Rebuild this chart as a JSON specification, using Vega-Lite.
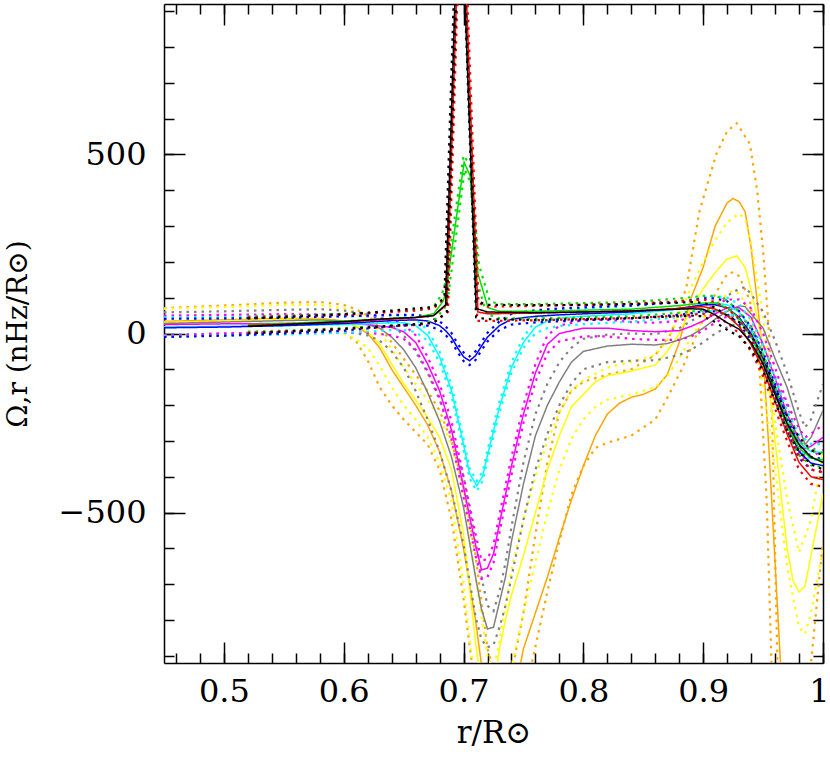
{
"$schema":"https://vega.github.io/schema/vega-lite/v6.json",
"width":659,"height":659,
"autosize":{"type":"none"},
"padding":{"left":164,"top":4,"right":7,"bottom":96},
"background":"white",
"config":{"view":{"stroke":null},"axis":{"grid":false,"domainColor":"black","domainWidth":1.5,"tickColor":"black","tickWidth":1.5,"labelFont":"DejaVu Serif","labelFontSize":32,"labelColor":"black","titleFont":"DejaVu Serif","titleFontSize":29,"titleFontWeight":"normal","titleColor":"black","labelOverlap":false,"labelFlush":false,"labelBound":false}},
"data":{"values":[
{"s":"o","d":"m","r":0.45,"v":34},{"s":"o","d":"m","r":0.5,"v":38},{"s":"o","d":"m","r":0.55,"v":42},{"s":"o","d":"m","r":0.58,"v":42},{"s":"o","d":"m","r":0.6,"v":35},{"s":"o","d":"m","r":0.61,"v":20},{"s":"o","d":"m","r":0.62,"v":0},{"s":"o","d":"m","r":0.63,"v":-40},{"s":"o","d":"m","r":0.64,"v":-100},{"s":"o","d":"m","r":0.65,"v":-150},{"s":"o","d":"m","r":0.66,"v":-200},{"s":"o","d":"m","r":0.67,"v":-255},{"s":"o","d":"m","r":0.68,"v":-330},{"s":"o","d":"m","r":0.69,"v":-440},{"s":"o","d":"m","r":0.7,"v":-600},{"s":"o","d":"m","r":0.71,"v":-800},{"s":"o","d":"m","r":0.72,"v":-1050},{"s":"o","d":"m","r":0.73,"v":-1150},{"s":"o","d":"m","r":0.74,"v":-1050},{"s":"o","d":"m","r":0.75,"v":-880},{"s":"o","d":"m","r":0.76,"v":-780},{"s":"o","d":"m","r":0.77,"v":-680},{"s":"o","d":"m","r":0.78,"v":-570},{"s":"o","d":"m","r":0.79,"v":-465},{"s":"o","d":"m","r":0.8,"v":-370},{"s":"o","d":"m","r":0.81,"v":-285},{"s":"o","d":"m","r":0.82,"v":-225},{"s":"o","d":"m","r":0.83,"v":-195},{"s":"o","d":"m","r":0.84,"v":-178},{"s":"o","d":"m","r":0.85,"v":-170},{"s":"o","d":"m","r":0.86,"v":-155},{"s":"o","d":"m","r":0.87,"v":-115},{"s":"o","d":"m","r":0.88,"v":-25},{"s":"o","d":"m","r":0.89,"v":100},{"s":"o","d":"m","r":0.9,"v":185},{"s":"o","d":"m","r":0.91,"v":300},{"s":"o","d":"m","r":0.92,"v":365},{"s":"o","d":"m","r":0.925,"v":377},{"s":"o","d":"m","r":0.93,"v":368},{"s":"o","d":"m","r":0.935,"v":340},{"s":"o","d":"m","r":0.94,"v":240},{"s":"o","d":"m","r":0.945,"v":92},{"s":"o","d":"m","r":0.95,"v":-60},{"s":"o","d":"m","r":0.955,"v":-330},{"s":"o","d":"m","r":0.96,"v":-640},{"s":"o","d":"m","r":0.965,"v":-950},{"s":"o","d":"m","r":0.97,"v":-1250},{"s":"o","d":"m","r":0.98,"v":-1600},{"s":"o","d":"m","r":1.0,"v":-1500},
{"s":"o","d":"u","r":0.45,"v":71},{"s":"o","d":"u","r":0.5,"v":78},{"s":"o","d":"u","r":0.55,"v":86},{"s":"o","d":"u","r":0.58,"v":88},{"s":"o","d":"u","r":0.6,"v":80},{"s":"o","d":"u","r":0.61,"v":68},{"s":"o","d":"u","r":0.62,"v":50},{"s":"o","d":"u","r":0.63,"v":20},{"s":"o","d":"u","r":0.64,"v":-25},{"s":"o","d":"u","r":0.65,"v":-70},{"s":"o","d":"u","r":0.66,"v":-115},{"s":"o","d":"u","r":0.67,"v":-160},{"s":"o","d":"u","r":0.68,"v":-215},{"s":"o","d":"u","r":0.69,"v":-300},{"s":"o","d":"u","r":0.7,"v":-430},{"s":"o","d":"u","r":0.71,"v":-620},{"s":"o","d":"u","r":0.72,"v":-880},{"s":"o","d":"u","r":0.73,"v":-1000},{"s":"o","d":"u","r":0.74,"v":-950},{"s":"o","d":"u","r":0.75,"v":-780},{"s":"o","d":"u","r":0.76,"v":-560},{"s":"o","d":"u","r":0.77,"v":-360},{"s":"o","d":"u","r":0.78,"v":-220},{"s":"o","d":"u","r":0.79,"v":-160},{"s":"o","d":"u","r":0.8,"v":-135},{"s":"o","d":"u","r":0.82,"v":-115},{"s":"o","d":"u","r":0.84,"v":-100},{"s":"o","d":"u","r":0.86,"v":-60},{"s":"o","d":"u","r":0.873,"v":-1},{"s":"o","d":"u","r":0.886,"v":129},{"s":"o","d":"u","r":0.897,"v":343},{"s":"o","d":"u","r":0.911,"v":501},{"s":"o","d":"u","r":0.92,"v":565},{"s":"o","d":"u","r":0.928,"v":587},{"s":"o","d":"u","r":0.939,"v":529},{"s":"o","d":"u","r":0.945,"v":400},{"s":"o","d":"u","r":0.95,"v":231},{"s":"o","d":"u","r":0.955,"v":-1},{"s":"o","d":"u","r":0.958,"v":-300},{"s":"o","d":"u","r":0.962,"v":-920},{"s":"o","d":"u","r":0.97,"v":-1300},{"s":"o","d":"u","r":0.98,"v":-1300},{"s":"o","d":"u","r":0.99,"v":-920},{"s":"o","d":"u","r":1.0,"v":-578},
{"s":"o","d":"l","r":0.45,"v":-8},{"s":"o","d":"l","r":0.5,"v":-5},{"s":"o","d":"l","r":0.55,"v":2},{"s":"o","d":"l","r":0.58,"v":5},{"s":"o","d":"l","r":0.6,"v":2},{"s":"o","d":"l","r":0.61,"v":-20},{"s":"o","d":"l","r":0.62,"v":-75},{"s":"o","d":"l","r":0.63,"v":-150},{"s":"o","d":"l","r":0.64,"v":-200},{"s":"o","d":"l","r":0.65,"v":-240},{"s":"o","d":"l","r":0.66,"v":-275},{"s":"o","d":"l","r":0.67,"v":-310},{"s":"o","d":"l","r":0.68,"v":-380},{"s":"o","d":"l","r":0.69,"v":-520},{"s":"o","d":"l","r":0.7,"v":-740},{"s":"o","d":"l","r":0.71,"v":-1000},{"s":"o","d":"l","r":0.72,"v":-1300},{"s":"o","d":"l","r":0.74,"v":-1400},{"s":"o","d":"l","r":0.75,"v":-1150},{"s":"o","d":"l","r":0.757,"v":-920},{"s":"o","d":"l","r":0.77,"v":-720},{"s":"o","d":"l","r":0.78,"v":-580},{"s":"o","d":"l","r":0.79,"v":-450},{"s":"o","d":"l","r":0.8,"v":-370},{"s":"o","d":"l","r":0.81,"v":-320},{"s":"o","d":"l","r":0.82,"v":-305},{"s":"o","d":"l","r":0.84,"v":-285},{"s":"o","d":"l","r":0.86,"v":-240},{"s":"o","d":"l","r":0.87,"v":-180},{"s":"o","d":"l","r":0.883,"v":-94},{"s":"o","d":"l","r":0.897,"v":17},{"s":"o","d":"l","r":0.91,"v":110},{"s":"o","d":"l","r":0.92,"v":166},{"s":"o","d":"l","r":0.925,"v":171},{"s":"o","d":"l","r":0.93,"v":160},{"s":"o","d":"l","r":0.939,"v":92},{"s":"o","d":"l","r":0.947,"v":-94},{"s":"o","d":"l","r":0.953,"v":-466},{"s":"o","d":"l","r":0.957,"v":-920},{"s":"o","d":"l","r":0.97,"v":-1500},{"s":"o","d":"l","r":1.0,"v":-1500},
{"s":"y","d":"m","r":0.45,"v":31},{"s":"y","d":"m","r":0.5,"v":35},{"s":"y","d":"m","r":0.55,"v":40},{"s":"y","d":"m","r":0.58,"v":40},{"s":"y","d":"m","r":0.6,"v":33},{"s":"y","d":"m","r":0.61,"v":22},{"s":"y","d":"m","r":0.62,"v":5},{"s":"y","d":"m","r":0.63,"v":-30},{"s":"y","d":"m","r":0.64,"v":-85},{"s":"y","d":"m","r":0.65,"v":-140},{"s":"y","d":"m","r":0.66,"v":-185},{"s":"y","d":"m","r":0.67,"v":-235},{"s":"y","d":"m","r":0.68,"v":-290},{"s":"y","d":"m","r":0.69,"v":-380},{"s":"y","d":"m","r":0.7,"v":-560},{"s":"y","d":"m","r":0.71,"v":-860},{"s":"y","d":"m","r":0.715,"v":-990},{"s":"y","d":"m","r":0.72,"v":-1080},{"s":"y","d":"m","r":0.725,"v":-1000},{"s":"y","d":"m","r":0.73,"v":-880},{"s":"y","d":"m","r":0.735,"v":-800},{"s":"y","d":"m","r":0.74,"v":-730},{"s":"y","d":"m","r":0.75,"v":-620},{"s":"y","d":"m","r":0.76,"v":-500},{"s":"y","d":"m","r":0.77,"v":-380},{"s":"y","d":"m","r":0.78,"v":-285},{"s":"y","d":"m","r":0.79,"v":-205},{"s":"y","d":"m","r":0.8,"v":-170},{"s":"y","d":"m","r":0.81,"v":-135},{"s":"y","d":"m","r":0.82,"v":-118},{"s":"y","d":"m","r":0.84,"v":-105},{"s":"y","d":"m","r":0.86,"v":-88},{"s":"y","d":"m","r":0.87,"v":-50},{"s":"y","d":"m","r":0.88,"v":0},{"s":"y","d":"m","r":0.89,"v":70},{"s":"y","d":"m","r":0.9,"v":125},{"s":"y","d":"m","r":0.91,"v":170},{"s":"y","d":"m","r":0.92,"v":208},{"s":"y","d":"m","r":0.928,"v":217},{"s":"y","d":"m","r":0.935,"v":185},{"s":"y","d":"m","r":0.94,"v":120},{"s":"y","d":"m","r":0.945,"v":45},{"s":"y","d":"m","r":0.95,"v":-40},{"s":"y","d":"m","r":0.955,"v":-150},{"s":"y","d":"m","r":0.96,"v":-300},{"s":"y","d":"m","r":0.965,"v":-450},{"s":"y","d":"m","r":0.97,"v":-600},{"s":"y","d":"m","r":0.975,"v":-690},{"s":"y","d":"m","r":0.98,"v":-722},{"s":"y","d":"m","r":0.985,"v":-705},{"s":"y","d":"m","r":0.99,"v":-620},{"s":"y","d":"m","r":1.0,"v":-448},
{"s":"y","d":"u","r":0.45,"v":69},{"s":"y","d":"u","r":0.5,"v":74},{"s":"y","d":"u","r":0.55,"v":80},{"s":"y","d":"u","r":0.58,"v":80},{"s":"y","d":"u","r":0.6,"v":70},{"s":"y","d":"u","r":0.61,"v":55},{"s":"y","d":"u","r":0.62,"v":35},{"s":"y","d":"u","r":0.63,"v":5},{"s":"y","d":"u","r":0.64,"v":-45},{"s":"y","d":"u","r":0.65,"v":-95},{"s":"y","d":"u","r":0.66,"v":-140},{"s":"y","d":"u","r":0.67,"v":-185},{"s":"y","d":"u","r":0.68,"v":-235},{"s":"y","d":"u","r":0.69,"v":-310},{"s":"y","d":"u","r":0.7,"v":-440},{"s":"y","d":"u","r":0.71,"v":-680},{"s":"y","d":"u","r":0.72,"v":-900},{"s":"y","d":"u","r":0.725,"v":-940},{"s":"y","d":"u","r":0.73,"v":-860},{"s":"y","d":"u","r":0.735,"v":-760},{"s":"y","d":"u","r":0.74,"v":-660},{"s":"y","d":"u","r":0.75,"v":-520},{"s":"y","d":"u","r":0.76,"v":-400},{"s":"y","d":"u","r":0.77,"v":-300},{"s":"y","d":"u","r":0.78,"v":-220},{"s":"y","d":"u","r":0.79,"v":-160},{"s":"y","d":"u","r":0.8,"v":-130},{"s":"y","d":"u","r":0.82,"v":-95},{"s":"y","d":"u","r":0.84,"v":-80},{"s":"y","d":"u","r":0.86,"v":-60},{"s":"y","d":"u","r":0.87,"v":-20},{"s":"y","d":"u","r":0.88,"v":50},{"s":"y","d":"u","r":0.89,"v":130},{"s":"y","d":"u","r":0.9,"v":200},{"s":"y","d":"u","r":0.91,"v":260},{"s":"y","d":"u","r":0.92,"v":310},{"s":"y","d":"u","r":0.93,"v":335},{"s":"y","d":"u","r":0.935,"v":320},{"s":"y","d":"u","r":0.94,"v":250},{"s":"y","d":"u","r":0.945,"v":150},{"s":"y","d":"u","r":0.95,"v":50},{"s":"y","d":"u","r":0.955,"v":-90},{"s":"y","d":"u","r":0.96,"v":-250},{"s":"y","d":"u","r":0.97,"v":-460},{"s":"y","d":"u","r":0.98,"v":-611},{"s":"y","d":"u","r":0.99,"v":-520},{"s":"y","d":"u","r":1.0,"v":-330},
{"s":"y","d":"l","r":0.45,"v":-5},{"s":"y","d":"l","r":0.5,"v":-2},{"s":"y","d":"l","r":0.55,"v":3},{"s":"y","d":"l","r":0.58,"v":5},{"s":"y","d":"l","r":0.6,"v":0},{"s":"y","d":"l","r":0.61,"v":-15},{"s":"y","d":"l","r":0.62,"v":-40},{"s":"y","d":"l","r":0.63,"v":-90},{"s":"y","d":"l","r":0.64,"v":-150},{"s":"y","d":"l","r":0.65,"v":-200},{"s":"y","d":"l","r":0.66,"v":-240},{"s":"y","d":"l","r":0.67,"v":-290},{"s":"y","d":"l","r":0.68,"v":-360},{"s":"y","d":"l","r":0.69,"v":-470},{"s":"y","d":"l","r":0.7,"v":-700},{"s":"y","d":"l","r":0.71,"v":-1000},{"s":"y","d":"l","r":0.72,"v":-1250},{"s":"y","d":"l","r":0.73,"v":-1100},{"s":"y","d":"l","r":0.74,"v":-930},{"s":"y","d":"l","r":0.75,"v":-780},{"s":"y","d":"l","r":0.76,"v":-640},{"s":"y","d":"l","r":0.77,"v":-500},{"s":"y","d":"l","r":0.78,"v":-380},{"s":"y","d":"l","r":0.79,"v":-295},{"s":"y","d":"l","r":0.8,"v":-240},{"s":"y","d":"l","r":0.81,"v":-205},{"s":"y","d":"l","r":0.82,"v":-185},{"s":"y","d":"l","r":0.84,"v":-170},{"s":"y","d":"l","r":0.86,"v":-150},{"s":"y","d":"l","r":0.87,"v":-120},{"s":"y","d":"l","r":0.88,"v":-70},{"s":"y","d":"l","r":0.89,"v":-10},{"s":"y","d":"l","r":0.9,"v":40},{"s":"y","d":"l","r":0.91,"v":80},{"s":"y","d":"l","r":0.92,"v":110},{"s":"y","d":"l","r":0.925,"v":120},{"s":"y","d":"l","r":0.93,"v":112},{"s":"y","d":"l","r":0.935,"v":85},{"s":"y","d":"l","r":0.94,"v":30},{"s":"y","d":"l","r":0.945,"v":-50},{"s":"y","d":"l","r":0.95,"v":-150},{"s":"y","d":"l","r":0.96,"v":-380},{"s":"y","d":"l","r":0.97,"v":-650},{"s":"y","d":"l","r":0.98,"v":-820},{"s":"y","d":"l","r":0.985,"v":-839},{"s":"y","d":"l","r":0.99,"v":-780},{"s":"y","d":"l","r":1.0,"v":-600},
{"s":"gy","d":"m","r":0.45,"v":28},{"s":"gy","d":"m","r":0.5,"v":32},{"s":"gy","d":"m","r":0.55,"v":36},{"s":"gy","d":"m","r":0.58,"v":38},{"s":"gy","d":"m","r":0.6,"v":35},{"s":"gy","d":"m","r":0.62,"v":25},{"s":"gy","d":"m","r":0.63,"v":15},{"s":"gy","d":"m","r":0.64,"v":-10},{"s":"gy","d":"m","r":0.65,"v":-45},{"s":"gy","d":"m","r":0.66,"v":-95},{"s":"gy","d":"m","r":0.67,"v":-165},{"s":"gy","d":"m","r":0.68,"v":-245},{"s":"gy","d":"m","r":0.69,"v":-345},{"s":"gy","d":"m","r":0.7,"v":-485},{"s":"gy","d":"m","r":0.71,"v":-680},{"s":"gy","d":"m","r":0.715,"v":-770},{"s":"gy","d":"m","r":0.72,"v":-825},{"s":"gy","d":"m","r":0.725,"v":-820},{"s":"gy","d":"m","r":0.73,"v":-750},{"s":"gy","d":"m","r":0.735,"v":-680},{"s":"gy","d":"m","r":0.74,"v":-580},{"s":"gy","d":"m","r":0.75,"v":-420},{"s":"gy","d":"m","r":0.76,"v":-285},{"s":"gy","d":"m","r":0.77,"v":-200},{"s":"gy","d":"m","r":0.78,"v":-135},{"s":"gy","d":"m","r":0.79,"v":-80},{"s":"gy","d":"m","r":0.8,"v":-50},{"s":"gy","d":"m","r":0.82,"v":-35},{"s":"gy","d":"m","r":0.84,"v":-30},{"s":"gy","d":"m","r":0.86,"v":-32},{"s":"gy","d":"m","r":0.87,"v":-28},{"s":"gy","d":"m","r":0.88,"v":-18},{"s":"gy","d":"m","r":0.89,"v":-5},{"s":"gy","d":"m","r":0.9,"v":15},{"s":"gy","d":"m","r":0.91,"v":40},{"s":"gy","d":"m","r":0.92,"v":62},{"s":"gy","d":"m","r":0.93,"v":77},{"s":"gy","d":"m","r":0.935,"v":75},{"s":"gy","d":"m","r":0.94,"v":55},{"s":"gy","d":"m","r":0.95,"v":15},{"s":"gy","d":"m","r":0.96,"v":-70},{"s":"gy","d":"m","r":0.97,"v":-150},{"s":"gy","d":"m","r":0.98,"v":-260},{"s":"gy","d":"m","r":0.985,"v":-310},{"s":"gy","d":"m","r":0.99,"v":-290},{"s":"gy","d":"m","r":1.0,"v":-215},
{"s":"gy","d":"u","r":0.45,"v":59},{"s":"gy","d":"u","r":0.5,"v":62},{"s":"gy","d":"u","r":0.55,"v":66},{"s":"gy","d":"u","r":0.58,"v":68},{"s":"gy","d":"u","r":0.6,"v":64},{"s":"gy","d":"u","r":0.62,"v":55},{"s":"gy","d":"u","r":0.63,"v":45},{"s":"gy","d":"u","r":0.64,"v":25},{"s":"gy","d":"u","r":0.65,"v":-5},{"s":"gy","d":"u","r":0.66,"v":-50},{"s":"gy","d":"u","r":0.67,"v":-110},{"s":"gy","d":"u","r":0.68,"v":-185},{"s":"gy","d":"u","r":0.69,"v":-275},{"s":"gy","d":"u","r":0.7,"v":-400},{"s":"gy","d":"u","r":0.71,"v":-580},{"s":"gy","d":"u","r":0.715,"v":-680},{"s":"gy","d":"u","r":0.72,"v":-760},{"s":"gy","d":"u","r":0.725,"v":-775},{"s":"gy","d":"u","r":0.73,"v":-720},{"s":"gy","d":"u","r":0.735,"v":-640},{"s":"gy","d":"u","r":0.74,"v":-540},{"s":"gy","d":"u","r":0.75,"v":-360},{"s":"gy","d":"u","r":0.76,"v":-225},{"s":"gy","d":"u","r":0.77,"v":-140},{"s":"gy","d":"u","r":0.78,"v":-80},{"s":"gy","d":"u","r":0.79,"v":-40},{"s":"gy","d":"u","r":0.8,"v":-15},{"s":"gy","d":"u","r":0.82,"v":-3},{"s":"gy","d":"u","r":0.84,"v":0},{"s":"gy","d":"u","r":0.86,"v":-2},{"s":"gy","d":"u","r":0.88,"v":15},{"s":"gy","d":"u","r":0.89,"v":35},{"s":"gy","d":"u","r":0.9,"v":55},{"s":"gy","d":"u","r":0.91,"v":80},{"s":"gy","d":"u","r":0.92,"v":105},{"s":"gy","d":"u","r":0.93,"v":125},{"s":"gy","d":"u","r":0.935,"v":129},{"s":"gy","d":"u","r":0.94,"v":110},{"s":"gy","d":"u","r":0.95,"v":60},{"s":"gy","d":"u","r":0.96,"v":-20},{"s":"gy","d":"u","r":0.97,"v":-110},{"s":"gy","d":"u","r":0.98,"v":-220},{"s":"gy","d":"u","r":0.985,"v":-262},{"s":"gy","d":"u","r":0.99,"v":-240},{"s":"gy","d":"u","r":1.0,"v":-141},
{"s":"gy","d":"l","r":0.45,"v":-5},{"s":"gy","d":"l","r":0.5,"v":0},{"s":"gy","d":"l","r":0.55,"v":5},{"s":"gy","d":"l","r":0.58,"v":8},{"s":"gy","d":"l","r":0.6,"v":5},{"s":"gy","d":"l","r":0.62,"v":-5},{"s":"gy","d":"l","r":0.63,"v":-20},{"s":"gy","d":"l","r":0.64,"v":-50},{"s":"gy","d":"l","r":0.65,"v":-95},{"s":"gy","d":"l","r":0.66,"v":-160},{"s":"gy","d":"l","r":0.67,"v":-240},{"s":"gy","d":"l","r":0.68,"v":-330},{"s":"gy","d":"l","r":0.69,"v":-440},{"s":"gy","d":"l","r":0.7,"v":-590},{"s":"gy","d":"l","r":0.71,"v":-790},{"s":"gy","d":"l","r":0.715,"v":-855},{"s":"gy","d":"l","r":0.72,"v":-876},{"s":"gy","d":"l","r":0.725,"v":-870},{"s":"gy","d":"l","r":0.73,"v":-820},{"s":"gy","d":"l","r":0.735,"v":-760},{"s":"gy","d":"l","r":0.74,"v":-680},{"s":"gy","d":"l","r":0.75,"v":-520},{"s":"gy","d":"l","r":0.76,"v":-380},{"s":"gy","d":"l","r":0.77,"v":-280},{"s":"gy","d":"l","r":0.78,"v":-200},{"s":"gy","d":"l","r":0.79,"v":-140},{"s":"gy","d":"l","r":0.8,"v":-100},{"s":"gy","d":"l","r":0.82,"v":-80},{"s":"gy","d":"l","r":0.84,"v":-76},{"s":"gy","d":"l","r":0.86,"v":-75},{"s":"gy","d":"l","r":0.88,"v":-60},{"s":"gy","d":"l","r":0.89,"v":-45},{"s":"gy","d":"l","r":0.9,"v":-25},{"s":"gy","d":"l","r":0.91,"v":0},{"s":"gy","d":"l","r":0.92,"v":17},{"s":"gy","d":"l","r":0.93,"v":30},{"s":"gy","d":"l","r":0.935,"v":28},{"s":"gy","d":"l","r":0.94,"v":10},{"s":"gy","d":"l","r":0.95,"v":-30},{"s":"gy","d":"l","r":0.96,"v":-120},{"s":"gy","d":"l","r":0.97,"v":-200},{"s":"gy","d":"l","r":0.98,"v":-300},{"s":"gy","d":"l","r":0.985,"v":-345},{"s":"gy","d":"l","r":0.99,"v":-335},{"s":"gy","d":"l","r":1.0,"v":-290},
{"s":"mg","d":"m","r":0.45,"v":25},{"s":"mg","d":"m","r":0.5,"v":27},{"s":"mg","d":"m","r":0.55,"v":28},{"s":"mg","d":"m","r":0.6,"v":28},{"s":"mg","d":"m","r":0.62,"v":25},{"s":"mg","d":"m","r":0.64,"v":17},{"s":"mg","d":"m","r":0.65,"v":5},{"s":"mg","d":"m","r":0.66,"v":-25},{"s":"mg","d":"m","r":0.67,"v":-85},{"s":"mg","d":"m","r":0.68,"v":-160},{"s":"mg","d":"m","r":0.69,"v":-270},{"s":"mg","d":"m","r":0.7,"v":-429},{"s":"mg","d":"m","r":0.71,"v":-590},{"s":"mg","d":"m","r":0.715,"v":-660},{"s":"mg","d":"m","r":0.72,"v":-655},{"s":"mg","d":"m","r":0.725,"v":-615},{"s":"mg","d":"m","r":0.73,"v":-530},{"s":"mg","d":"m","r":0.74,"v":-370},{"s":"mg","d":"m","r":0.75,"v":-225},{"s":"mg","d":"m","r":0.76,"v":-110},{"s":"mg","d":"m","r":0.77,"v":-30},{"s":"mg","d":"m","r":0.78,"v":0},{"s":"mg","d":"m","r":0.8,"v":15},{"s":"mg","d":"m","r":0.82,"v":15},{"s":"mg","d":"m","r":0.84,"v":8},{"s":"mg","d":"m","r":0.86,"v":5},{"s":"mg","d":"m","r":0.88,"v":8},{"s":"mg","d":"m","r":0.89,"v":20},{"s":"mg","d":"m","r":0.9,"v":35},{"s":"mg","d":"m","r":0.91,"v":55},{"s":"mg","d":"m","r":0.92,"v":72},{"s":"mg","d":"m","r":0.93,"v":72},{"s":"mg","d":"m","r":0.94,"v":45},{"s":"mg","d":"m","r":0.95,"v":-30},{"s":"mg","d":"m","r":0.96,"v":-125},{"s":"mg","d":"m","r":0.97,"v":-225},{"s":"mg","d":"m","r":0.98,"v":-295},{"s":"mg","d":"m","r":0.985,"v":-322},{"s":"mg","d":"m","r":0.99,"v":-315},{"s":"mg","d":"m","r":1.0,"v":-290},
{"s":"mg","d":"u","r":0.45,"v":50},{"s":"mg","d":"u","r":0.5,"v":52},{"s":"mg","d":"u","r":0.55,"v":54},{"s":"mg","d":"u","r":0.6,"v":53},{"s":"mg","d":"u","r":0.62,"v":48},{"s":"mg","d":"u","r":0.64,"v":38},{"s":"mg","d":"u","r":0.65,"v":25},{"s":"mg","d":"u","r":0.66,"v":-5},{"s":"mg","d":"u","r":0.67,"v":-65},{"s":"mg","d":"u","r":0.68,"v":-140},{"s":"mg","d":"u","r":0.69,"v":-245},{"s":"mg","d":"u","r":0.7,"v":-400},{"s":"mg","d":"u","r":0.71,"v":-560},{"s":"mg","d":"u","r":0.715,"v":-634},{"s":"mg","d":"u","r":0.72,"v":-630},{"s":"mg","d":"u","r":0.725,"v":-590},{"s":"mg","d":"u","r":0.73,"v":-505},{"s":"mg","d":"u","r":0.74,"v":-345},{"s":"mg","d":"u","r":0.75,"v":-200},{"s":"mg","d":"u","r":0.76,"v":-85},{"s":"mg","d":"u","r":0.77,"v":-5},{"s":"mg","d":"u","r":0.78,"v":22},{"s":"mg","d":"u","r":0.8,"v":38},{"s":"mg","d":"u","r":0.82,"v":38},{"s":"mg","d":"u","r":0.84,"v":32},{"s":"mg","d":"u","r":0.86,"v":30},{"s":"mg","d":"u","r":0.88,"v":35},{"s":"mg","d":"u","r":0.89,"v":48},{"s":"mg","d":"u","r":0.9,"v":62},{"s":"mg","d":"u","r":0.91,"v":80},{"s":"mg","d":"u","r":0.92,"v":95},{"s":"mg","d":"u","r":0.93,"v":95},{"s":"mg","d":"u","r":0.94,"v":70},{"s":"mg","d":"u","r":0.95,"v":0},{"s":"mg","d":"u","r":0.96,"v":-95},{"s":"mg","d":"u","r":0.97,"v":-195},{"s":"mg","d":"u","r":0.98,"v":-265},{"s":"mg","d":"u","r":0.985,"v":-290},{"s":"mg","d":"u","r":0.99,"v":-280},{"s":"mg","d":"u","r":1.0,"v":-255},
{"s":"mg","d":"l","r":0.45,"v":-5},{"s":"mg","d":"l","r":0.5,"v":0},{"s":"mg","d":"l","r":0.55,"v":3},{"s":"mg","d":"l","r":0.6,"v":3},{"s":"mg","d":"l","r":0.62,"v":2},{"s":"mg","d":"l","r":0.64,"v":-5},{"s":"mg","d":"l","r":0.65,"v":-15},{"s":"mg","d":"l","r":0.66,"v":-45},{"s":"mg","d":"l","r":0.67,"v":-105},{"s":"mg","d":"l","r":0.68,"v":-180},{"s":"mg","d":"l","r":0.69,"v":-295},{"s":"mg","d":"l","r":0.7,"v":-458},{"s":"mg","d":"l","r":0.71,"v":-620},{"s":"mg","d":"l","r":0.715,"v":-685},{"s":"mg","d":"l","r":0.72,"v":-680},{"s":"mg","d":"l","r":0.725,"v":-640},{"s":"mg","d":"l","r":0.73,"v":-555},{"s":"mg","d":"l","r":0.74,"v":-395},{"s":"mg","d":"l","r":0.75,"v":-250},{"s":"mg","d":"l","r":0.76,"v":-135},{"s":"mg","d":"l","r":0.77,"v":-55},{"s":"mg","d":"l","r":0.78,"v":-22},{"s":"mg","d":"l","r":0.8,"v":-8},{"s":"mg","d":"l","r":0.82,"v":-8},{"s":"mg","d":"l","r":0.84,"v":-15},{"s":"mg","d":"l","r":0.86,"v":-18},{"s":"mg","d":"l","r":0.88,"v":-18},{"s":"mg","d":"l","r":0.89,"v":-8},{"s":"mg","d":"l","r":0.9,"v":8},{"s":"mg","d":"l","r":0.91,"v":30},{"s":"mg","d":"l","r":0.92,"v":48},{"s":"mg","d":"l","r":0.93,"v":50},{"s":"mg","d":"l","r":0.94,"v":20},{"s":"mg","d":"l","r":0.95,"v":-60},{"s":"mg","d":"l","r":0.96,"v":-155},{"s":"mg","d":"l","r":0.97,"v":-255},{"s":"mg","d":"l","r":0.98,"v":-325},{"s":"mg","d":"l","r":0.985,"v":-352},{"s":"mg","d":"l","r":0.99,"v":-345},{"s":"mg","d":"l","r":1.0,"v":-325},
{"s":"c","d":"m","r":0.45,"v":19},{"s":"c","d":"m","r":0.5,"v":20},{"s":"c","d":"m","r":0.55,"v":22},{"s":"c","d":"m","r":0.6,"v":25},{"s":"c","d":"m","r":0.62,"v":27},{"s":"c","d":"m","r":0.64,"v":30},{"s":"c","d":"m","r":0.65,"v":30},{"s":"c","d":"m","r":0.66,"v":22},{"s":"c","d":"m","r":0.67,"v":-5},{"s":"c","d":"m","r":0.68,"v":-65},{"s":"c","d":"m","r":0.69,"v":-160},{"s":"c","d":"m","r":0.7,"v":-310},{"s":"c","d":"m","r":0.705,"v":-390},{"s":"c","d":"m","r":0.711,"v":-425},{"s":"c","d":"m","r":0.716,"v":-398},{"s":"c","d":"m","r":0.72,"v":-340},{"s":"c","d":"m","r":0.73,"v":-205},{"s":"c","d":"m","r":0.74,"v":-95},{"s":"c","d":"m","r":0.75,"v":-25},{"s":"c","d":"m","r":0.76,"v":18},{"s":"c","d":"m","r":0.77,"v":35},{"s":"c","d":"m","r":0.78,"v":43},{"s":"c","d":"m","r":0.8,"v":48},{"s":"c","d":"m","r":0.84,"v":55},{"s":"c","d":"m","r":0.88,"v":68},{"s":"c","d":"m","r":0.9,"v":80},{"s":"c","d":"m","r":0.91,"v":85},{"s":"c","d":"m","r":0.92,"v":80},{"s":"c","d":"m","r":0.93,"v":60},{"s":"c","d":"m","r":0.94,"v":15},{"s":"c","d":"m","r":0.95,"v":-55},{"s":"c","d":"m","r":0.96,"v":-145},{"s":"c","d":"m","r":0.97,"v":-240},{"s":"c","d":"m","r":0.98,"v":-305},{"s":"c","d":"m","r":0.99,"v":-330},{"s":"c","d":"m","r":1.0,"v":-332},
{"s":"c","d":"u","r":0.45,"v":45},{"s":"c","d":"u","r":0.5,"v":46},{"s":"c","d":"u","r":0.55,"v":47},{"s":"c","d":"u","r":0.6,"v":48},{"s":"c","d":"u","r":0.62,"v":49},{"s":"c","d":"u","r":0.64,"v":50},{"s":"c","d":"u","r":0.65,"v":50},{"s":"c","d":"u","r":0.66,"v":40},{"s":"c","d":"u","r":0.67,"v":10},{"s":"c","d":"u","r":0.68,"v":-50},{"s":"c","d":"u","r":0.69,"v":-145},{"s":"c","d":"u","r":0.7,"v":-295},{"s":"c","d":"u","r":0.705,"v":-376},{"s":"c","d":"u","r":0.711,"v":-412},{"s":"c","d":"u","r":0.716,"v":-385},{"s":"c","d":"u","r":0.72,"v":-326},{"s":"c","d":"u","r":0.73,"v":-190},{"s":"c","d":"u","r":0.74,"v":-80},{"s":"c","d":"u","r":0.75,"v":-10},{"s":"c","d":"u","r":0.76,"v":35},{"s":"c","d":"u","r":0.77,"v":55},{"s":"c","d":"u","r":0.78,"v":65},{"s":"c","d":"u","r":0.8,"v":70},{"s":"c","d":"u","r":0.84,"v":77},{"s":"c","d":"u","r":0.88,"v":90},{"s":"c","d":"u","r":0.9,"v":100},{"s":"c","d":"u","r":0.91,"v":105},{"s":"c","d":"u","r":0.92,"v":100},{"s":"c","d":"u","r":0.93,"v":82},{"s":"c","d":"u","r":0.94,"v":38},{"s":"c","d":"u","r":0.95,"v":-32},{"s":"c","d":"u","r":0.96,"v":-122},{"s":"c","d":"u","r":0.97,"v":-217},{"s":"c","d":"u","r":0.98,"v":-282},{"s":"c","d":"u","r":0.99,"v":-308},{"s":"c","d":"u","r":1.0,"v":-310},
{"s":"c","d":"l","r":0.45,"v":-8},{"s":"c","d":"l","r":0.5,"v":-6},{"s":"c","d":"l","r":0.55,"v":-3},{"s":"c","d":"l","r":0.6,"v":2},{"s":"c","d":"l","r":0.62,"v":5},{"s":"c","d":"l","r":0.64,"v":10},{"s":"c","d":"l","r":0.65,"v":10},{"s":"c","d":"l","r":0.66,"v":4},{"s":"c","d":"l","r":0.67,"v":-20},{"s":"c","d":"l","r":0.68,"v":-80},{"s":"c","d":"l","r":0.69,"v":-175},{"s":"c","d":"l","r":0.7,"v":-325},{"s":"c","d":"l","r":0.705,"v":-404},{"s":"c","d":"l","r":0.711,"v":-440},{"s":"c","d":"l","r":0.716,"v":-411},{"s":"c","d":"l","r":0.72,"v":-354},{"s":"c","d":"l","r":0.73,"v":-220},{"s":"c","d":"l","r":0.74,"v":-110},{"s":"c","d":"l","r":0.75,"v":-40},{"s":"c","d":"l","r":0.76,"v":1},{"s":"c","d":"l","r":0.77,"v":15},{"s":"c","d":"l","r":0.78,"v":21},{"s":"c","d":"l","r":0.8,"v":26},{"s":"c","d":"l","r":0.84,"v":33},{"s":"c","d":"l","r":0.88,"v":46},{"s":"c","d":"l","r":0.9,"v":60},{"s":"c","d":"l","r":0.91,"v":65},{"s":"c","d":"l","r":0.92,"v":60},{"s":"c","d":"l","r":0.93,"v":38},{"s":"c","d":"l","r":0.94,"v":-8},{"s":"c","d":"l","r":0.95,"v":-78},{"s":"c","d":"l","r":0.96,"v":-168},{"s":"c","d":"l","r":0.97,"v":-263},{"s":"c","d":"l","r":0.98,"v":-328},{"s":"c","d":"l","r":0.99,"v":-352},{"s":"c","d":"l","r":1.0,"v":-354},
{"s":"b","d":"m","r":0.45,"v":16},{"s":"b","d":"m","r":0.5,"v":18},{"s":"b","d":"m","r":0.55,"v":22},{"s":"b","d":"m","r":0.6,"v":28},{"s":"b","d":"m","r":0.62,"v":32},{"s":"b","d":"m","r":0.64,"v":36},{"s":"b","d":"m","r":0.66,"v":38},{"s":"b","d":"m","r":0.67,"v":35},{"s":"b","d":"m","r":0.68,"v":22},{"s":"b","d":"m","r":0.685,"v":8},{"s":"b","d":"m","r":0.69,"v":-11},{"s":"b","d":"m","r":0.695,"v":-40},{"s":"b","d":"m","r":0.7,"v":-65},{"s":"b","d":"m","r":0.705,"v":-76},{"s":"b","d":"m","r":0.71,"v":-62},{"s":"b","d":"m","r":0.715,"v":-35},{"s":"b","d":"m","r":0.72,"v":-10},{"s":"b","d":"m","r":0.73,"v":22},{"s":"b","d":"m","r":0.74,"v":40},{"s":"b","d":"m","r":0.76,"v":48},{"s":"b","d":"m","r":0.78,"v":52},{"s":"b","d":"m","r":0.8,"v":55},{"s":"b","d":"m","r":0.84,"v":60},{"s":"b","d":"m","r":0.88,"v":70},{"s":"b","d":"m","r":0.9,"v":80},{"s":"b","d":"m","r":0.91,"v":80},{"s":"b","d":"m","r":0.92,"v":72},{"s":"b","d":"m","r":0.93,"v":45},{"s":"b","d":"m","r":0.94,"v":0},{"s":"b","d":"m","r":0.95,"v":-70},{"s":"b","d":"m","r":0.96,"v":-160},{"s":"b","d":"m","r":0.97,"v":-255},{"s":"b","d":"m","r":0.98,"v":-330},{"s":"b","d":"m","r":0.99,"v":-362},{"s":"b","d":"m","r":1.0,"v":-369},
{"s":"b","d":"u","r":0.45,"v":41},{"s":"b","d":"u","r":0.5,"v":42},{"s":"b","d":"u","r":0.55,"v":44},{"s":"b","d":"u","r":0.6,"v":48},{"s":"b","d":"u","r":0.62,"v":50},{"s":"b","d":"u","r":0.64,"v":52},{"s":"b","d":"u","r":0.66,"v":52},{"s":"b","d":"u","r":0.67,"v":48},{"s":"b","d":"u","r":0.68,"v":34},{"s":"b","d":"u","r":0.685,"v":20},{"s":"b","d":"u","r":0.69,"v":1},{"s":"b","d":"u","r":0.695,"v":-28},{"s":"b","d":"u","r":0.7,"v":-53},{"s":"b","d":"u","r":0.705,"v":-64},{"s":"b","d":"u","r":0.71,"v":-50},{"s":"b","d":"u","r":0.715,"v":-23},{"s":"b","d":"u","r":0.72,"v":2},{"s":"b","d":"u","r":0.73,"v":34},{"s":"b","d":"u","r":0.74,"v":55},{"s":"b","d":"u","r":0.76,"v":65},{"s":"b","d":"u","r":0.78,"v":70},{"s":"b","d":"u","r":0.8,"v":73},{"s":"b","d":"u","r":0.84,"v":78},{"s":"b","d":"u","r":0.88,"v":88},{"s":"b","d":"u","r":0.9,"v":98},{"s":"b","d":"u","r":0.91,"v":98},{"s":"b","d":"u","r":0.92,"v":90},{"s":"b","d":"u","r":0.93,"v":63},{"s":"b","d":"u","r":0.94,"v":18},{"s":"b","d":"u","r":0.95,"v":-52},{"s":"b","d":"u","r":0.96,"v":-142},{"s":"b","d":"u","r":0.97,"v":-237},{"s":"b","d":"u","r":0.98,"v":-312},{"s":"b","d":"u","r":0.99,"v":-344},{"s":"b","d":"u","r":1.0,"v":-351},
{"s":"b","d":"l","r":0.45,"v":-10},{"s":"b","d":"l","r":0.5,"v":-6},{"s":"b","d":"l","r":0.55,"v":0},{"s":"b","d":"l","r":0.6,"v":8},{"s":"b","d":"l","r":0.62,"v":14},{"s":"b","d":"l","r":0.64,"v":20},{"s":"b","d":"l","r":0.66,"v":24},{"s":"b","d":"l","r":0.67,"v":22},{"s":"b","d":"l","r":0.68,"v":10},{"s":"b","d":"l","r":0.685,"v":-4},{"s":"b","d":"l","r":0.69,"v":-23},{"s":"b","d":"l","r":0.695,"v":-52},{"s":"b","d":"l","r":0.7,"v":-77},{"s":"b","d":"l","r":0.705,"v":-88},{"s":"b","d":"l","r":0.71,"v":-74},{"s":"b","d":"l","r":0.715,"v":-47},{"s":"b","d":"l","r":0.72,"v":-22},{"s":"b","d":"l","r":0.73,"v":10},{"s":"b","d":"l","r":0.74,"v":25},{"s":"b","d":"l","r":0.76,"v":31},{"s":"b","d":"l","r":0.78,"v":34},{"s":"b","d":"l","r":0.8,"v":37},{"s":"b","d":"l","r":0.84,"v":42},{"s":"b","d":"l","r":0.88,"v":52},{"s":"b","d":"l","r":0.9,"v":62},{"s":"b","d":"l","r":0.91,"v":62},{"s":"b","d":"l","r":0.92,"v":54},{"s":"b","d":"l","r":0.93,"v":27},{"s":"b","d":"l","r":0.94,"v":-18},{"s":"b","d":"l","r":0.95,"v":-88},{"s":"b","d":"l","r":0.96,"v":-178},{"s":"b","d":"l","r":0.97,"v":-273},{"s":"b","d":"l","r":0.98,"v":-348},{"s":"b","d":"l","r":0.99,"v":-380},{"s":"b","d":"l","r":1.0,"v":-387},
{"s":"g","d":"m","r":0.52,"v":25},{"s":"g","d":"m","r":0.55,"v":28},{"s":"g","d":"m","r":0.6,"v":35},{"s":"g","d":"m","r":0.62,"v":38},{"s":"g","d":"m","r":0.64,"v":42},{"s":"g","d":"m","r":0.66,"v":45},{"s":"g","d":"m","r":0.675,"v":55},{"s":"g","d":"m","r":0.683,"v":90},{"s":"g","d":"m","r":0.6855,"v":120},{"s":"g","d":"m","r":0.7005,"v":478},{"s":"g","d":"m","r":0.7055,"v":440},{"s":"g","d":"m","r":0.712,"v":167},{"s":"g","d":"m","r":0.7205,"v":72},{"s":"g","d":"m","r":0.73,"v":62},{"s":"g","d":"m","r":0.76,"v":62},{"s":"g","d":"m","r":0.8,"v":65},{"s":"g","d":"m","r":0.84,"v":68},{"s":"g","d":"m","r":0.88,"v":78},{"s":"g","d":"m","r":0.9,"v":85},{"s":"g","d":"m","r":0.91,"v":85},{"s":"g","d":"m","r":0.92,"v":72},{"s":"g","d":"m","r":0.93,"v":42},{"s":"g","d":"m","r":0.94,"v":-8},{"s":"g","d":"m","r":0.95,"v":-80},{"s":"g","d":"m","r":0.96,"v":-170},{"s":"g","d":"m","r":0.97,"v":-260},{"s":"g","d":"m","r":0.98,"v":-320},{"s":"g","d":"m","r":0.99,"v":-348},{"s":"g","d":"m","r":1.0,"v":-353},
{"s":"g","d":"u","r":0.52,"v":48},{"s":"g","d":"u","r":0.55,"v":50},{"s":"g","d":"u","r":0.6,"v":55},{"s":"g","d":"u","r":0.62,"v":58},{"s":"g","d":"u","r":0.64,"v":62},{"s":"g","d":"u","r":0.66,"v":65},{"s":"g","d":"u","r":0.675,"v":75},{"s":"g","d":"u","r":0.682,"v":110},{"s":"g","d":"u","r":0.685,"v":145},{"s":"g","d":"u","r":0.7,"v":497},{"s":"g","d":"u","r":0.7055,"v":470},{"s":"g","d":"u","r":0.713,"v":190},{"s":"g","d":"u","r":0.722,"v":90},{"s":"g","d":"u","r":0.73,"v":82},{"s":"g","d":"u","r":0.76,"v":82},{"s":"g","d":"u","r":0.8,"v":85},{"s":"g","d":"u","r":0.84,"v":88},{"s":"g","d":"u","r":0.88,"v":98},{"s":"g","d":"u","r":0.9,"v":105},{"s":"g","d":"u","r":0.91,"v":105},{"s":"g","d":"u","r":0.92,"v":92},{"s":"g","d":"u","r":0.93,"v":62},{"s":"g","d":"u","r":0.94,"v":12},{"s":"g","d":"u","r":0.95,"v":-60},{"s":"g","d":"u","r":0.96,"v":-150},{"s":"g","d":"u","r":0.97,"v":-240},{"s":"g","d":"u","r":0.98,"v":-300},{"s":"g","d":"u","r":0.99,"v":-328},{"s":"g","d":"u","r":1.0,"v":-333},
{"s":"g","d":"l","r":0.52,"v":5},{"s":"g","d":"l","r":0.55,"v":8},{"s":"g","d":"l","r":0.6,"v":15},{"s":"g","d":"l","r":0.62,"v":18},{"s":"g","d":"l","r":0.64,"v":22},{"s":"g","d":"l","r":0.66,"v":25},{"s":"g","d":"l","r":0.675,"v":35},{"s":"g","d":"l","r":0.684,"v":70},{"s":"g","d":"l","r":0.687,"v":100},{"s":"g","d":"l","r":0.701,"v":458},{"s":"g","d":"l","r":0.706,"v":420},{"s":"g","d":"l","r":0.711,"v":150},{"s":"g","d":"l","r":0.719,"v":55},{"s":"g","d":"l","r":0.73,"v":42},{"s":"g","d":"l","r":0.76,"v":42},{"s":"g","d":"l","r":0.8,"v":45},{"s":"g","d":"l","r":0.84,"v":48},{"s":"g","d":"l","r":0.88,"v":58},{"s":"g","d":"l","r":0.9,"v":65},{"s":"g","d":"l","r":0.91,"v":65},{"s":"g","d":"l","r":0.92,"v":52},{"s":"g","d":"l","r":0.93,"v":22},{"s":"g","d":"l","r":0.94,"v":-28},{"s":"g","d":"l","r":0.95,"v":-100},{"s":"g","d":"l","r":0.96,"v":-190},{"s":"g","d":"l","r":0.97,"v":-280},{"s":"g","d":"l","r":0.98,"v":-340},{"s":"g","d":"l","r":0.99,"v":-368},{"s":"g","d":"l","r":1.0,"v":-373},
{"s":"r","d":"m","r":0.52,"v":22},{"s":"r","d":"m","r":0.55,"v":26},{"s":"r","d":"m","r":0.6,"v":32},{"s":"r","d":"m","r":0.62,"v":36},{"s":"r","d":"m","r":0.64,"v":40},{"s":"r","d":"m","r":0.66,"v":44},{"s":"r","d":"m","r":0.675,"v":50},{"s":"r","d":"m","r":0.686,"v":80},{"s":"r","d":"m","r":0.698,"v":1350},{"s":"r","d":"m","r":0.712,"v":60},{"s":"r","d":"m","r":0.72,"v":55},{"s":"r","d":"m","r":0.76,"v":57},{"s":"r","d":"m","r":0.8,"v":60},{"s":"r","d":"m","r":0.84,"v":63},{"s":"r","d":"m","r":0.88,"v":70},{"s":"r","d":"m","r":0.9,"v":75},{"s":"r","d":"m","r":0.91,"v":68},{"s":"r","d":"m","r":0.92,"v":50},{"s":"r","d":"m","r":0.93,"v":20},{"s":"r","d":"m","r":0.94,"v":-30},{"s":"r","d":"m","r":0.95,"v":-100},{"s":"r","d":"m","r":0.96,"v":-190},{"s":"r","d":"m","r":0.97,"v":-280},{"s":"r","d":"m","r":0.98,"v":-360},{"s":"r","d":"m","r":0.99,"v":-400},{"s":"r","d":"m","r":1.0,"v":-408},
{"s":"r","d":"u","r":0.52,"v":45},{"s":"r","d":"u","r":0.55,"v":48},{"s":"r","d":"u","r":0.6,"v":52},{"s":"r","d":"u","r":0.62,"v":56},{"s":"r","d":"u","r":0.64,"v":60},{"s":"r","d":"u","r":0.66,"v":64},{"s":"r","d":"u","r":0.675,"v":70},{"s":"r","d":"u","r":0.685,"v":100},{"s":"r","d":"u","r":0.698,"v":1420},{"s":"r","d":"u","r":0.7125,"v":85},{"s":"r","d":"u","r":0.72,"v":75},{"s":"r","d":"u","r":0.76,"v":77},{"s":"r","d":"u","r":0.8,"v":80},{"s":"r","d":"u","r":0.84,"v":83},{"s":"r","d":"u","r":0.88,"v":90},{"s":"r","d":"u","r":0.9,"v":95},{"s":"r","d":"u","r":0.91,"v":88},{"s":"r","d":"u","r":0.92,"v":70},{"s":"r","d":"u","r":0.93,"v":40},{"s":"r","d":"u","r":0.94,"v":-10},{"s":"r","d":"u","r":0.95,"v":-80},{"s":"r","d":"u","r":0.96,"v":-170},{"s":"r","d":"u","r":0.97,"v":-260},{"s":"r","d":"u","r":0.98,"v":-340},{"s":"r","d":"u","r":0.99,"v":-380},{"s":"r","d":"u","r":1.0,"v":-388},
{"s":"r","d":"l","r":0.52,"v":2},{"s":"r","d":"l","r":0.55,"v":6},{"s":"r","d":"l","r":0.6,"v":12},{"s":"r","d":"l","r":0.62,"v":16},{"s":"r","d":"l","r":0.64,"v":20},{"s":"r","d":"l","r":0.66,"v":24},{"s":"r","d":"l","r":0.675,"v":30},{"s":"r","d":"l","r":0.687,"v":60},{"s":"r","d":"l","r":0.698,"v":1280},{"s":"r","d":"l","r":0.7115,"v":35},{"s":"r","d":"l","r":0.72,"v":35},{"s":"r","d":"l","r":0.76,"v":37},{"s":"r","d":"l","r":0.8,"v":40},{"s":"r","d":"l","r":0.84,"v":43},{"s":"r","d":"l","r":0.88,"v":50},{"s":"r","d":"l","r":0.9,"v":55},{"s":"r","d":"l","r":0.91,"v":48},{"s":"r","d":"l","r":0.92,"v":30},{"s":"r","d":"l","r":0.93,"v":0},{"s":"r","d":"l","r":0.94,"v":-50},{"s":"r","d":"l","r":0.95,"v":-120},{"s":"r","d":"l","r":0.96,"v":-210},{"s":"r","d":"l","r":0.97,"v":-300},{"s":"r","d":"l","r":0.98,"v":-380},{"s":"r","d":"l","r":0.99,"v":-420},{"s":"r","d":"l","r":1.0,"v":-428},
{"s":"k","d":"m","r":0.52,"v":20},{"s":"k","d":"m","r":0.55,"v":25},{"s":"k","d":"m","r":0.6,"v":33},{"s":"k","d":"m","r":0.62,"v":38},{"s":"k","d":"m","r":0.64,"v":42},{"s":"k","d":"m","r":0.66,"v":45},{"s":"k","d":"m","r":0.675,"v":50},{"s":"k","d":"m","r":0.685,"v":80},{"s":"k","d":"m","r":0.6967,"v":1350},{"s":"k","d":"m","r":0.7105,"v":70},{"s":"k","d":"m","r":0.72,"v":60},{"s":"k","d":"m","r":0.76,"v":58},{"s":"k","d":"m","r":0.8,"v":60},{"s":"k","d":"m","r":0.84,"v":63},{"s":"k","d":"m","r":0.88,"v":68},{"s":"k","d":"m","r":0.89,"v":69},{"s":"k","d":"m","r":0.9,"v":68},{"s":"k","d":"m","r":0.91,"v":52},{"s":"k","d":"m","r":0.92,"v":30},{"s":"k","d":"m","r":0.93,"v":12},{"s":"k","d":"m","r":0.94,"v":-25},{"s":"k","d":"m","r":0.95,"v":-85},{"s":"k","d":"m","r":0.96,"v":-170},{"s":"k","d":"m","r":0.97,"v":-250},{"s":"k","d":"m","r":0.98,"v":-310},{"s":"k","d":"m","r":0.99,"v":-345},{"s":"k","d":"m","r":1.0,"v":-360},
{"s":"k","d":"u","r":0.52,"v":42},{"s":"k","d":"u","r":0.55,"v":46},{"s":"k","d":"u","r":0.6,"v":54},{"s":"k","d":"u","r":0.62,"v":58},{"s":"k","d":"u","r":0.64,"v":64},{"s":"k","d":"u","r":0.66,"v":70},{"s":"k","d":"u","r":0.675,"v":74},{"s":"k","d":"u","r":0.684,"v":100},{"s":"k","d":"u","r":0.6962,"v":1400},{"s":"k","d":"u","r":0.711,"v":90},{"s":"k","d":"u","r":0.72,"v":80},{"s":"k","d":"u","r":0.76,"v":79},{"s":"k","d":"u","r":0.8,"v":80},{"s":"k","d":"u","r":0.84,"v":82},{"s":"k","d":"u","r":0.88,"v":86},{"s":"k","d":"u","r":0.89,"v":88},{"s":"k","d":"u","r":0.9,"v":86},{"s":"k","d":"u","r":0.91,"v":72},{"s":"k","d":"u","r":0.92,"v":50},{"s":"k","d":"u","r":0.93,"v":32},{"s":"k","d":"u","r":0.94,"v":-5},{"s":"k","d":"u","r":0.95,"v":-65},{"s":"k","d":"u","r":0.96,"v":-150},{"s":"k","d":"u","r":0.97,"v":-230},{"s":"k","d":"u","r":0.98,"v":-290},{"s":"k","d":"u","r":0.99,"v":-325},{"s":"k","d":"u","r":1.0,"v":-340},
{"s":"k","d":"l","r":0.52,"v":0},{"s":"k","d":"l","r":0.55,"v":5},{"s":"k","d":"l","r":0.6,"v":13},{"s":"k","d":"l","r":0.62,"v":17},{"s":"k","d":"l","r":0.64,"v":22},{"s":"k","d":"l","r":0.66,"v":26},{"s":"k","d":"l","r":0.675,"v":30},{"s":"k","d":"l","r":0.686,"v":60},{"s":"k","d":"l","r":0.6972,"v":1300},{"s":"k","d":"l","r":0.7105,"v":45},{"s":"k","d":"l","r":0.72,"v":40},{"s":"k","d":"l","r":0.76,"v":38},{"s":"k","d":"l","r":0.8,"v":40},{"s":"k","d":"l","r":0.84,"v":43},{"s":"k","d":"l","r":0.88,"v":48},{"s":"k","d":"l","r":0.89,"v":50},{"s":"k","d":"l","r":0.9,"v":48},{"s":"k","d":"l","r":0.91,"v":32},{"s":"k","d":"l","r":0.92,"v":10},{"s":"k","d":"l","r":0.93,"v":-8},{"s":"k","d":"l","r":0.94,"v":-45},{"s":"k","d":"l","r":0.95,"v":-105},{"s":"k","d":"l","r":0.96,"v":-190},{"s":"k","d":"l","r":0.97,"v":-270},{"s":"k","d":"l","r":0.98,"v":-330},{"s":"k","d":"l","r":0.99,"v":-365},{"s":"k","d":"l","r":1.0,"v":-380}
]},
"layer":[
{"mark":{"type":"line","clip":true},
 "encoding":{
  "x":{"field":"r","type":"quantitative","scale":{"domain":[0.45,1.0],"nice":false,"zero":false},
   "axis":{"orient":"bottom","values":[0.5,0.6,0.7,0.8,0.9,1],"ticks":false,
   "title":"r/R⊙","titleFontSize":31,"labelPadding":13,"titlePadding":11,"labelFlush":true,"labelFlushOffset":6,
   "labelExpr":"datum.value>0.999 ? '1' : format(datum.value,'.1f')"}},
  "y":{"field":"v","type":"quantitative","scale":{"domain":[-920,920],"nice":false,"zero":false},
   "axis":{"orient":"left","values":[-500,0,500],"ticks":false,
   "title":"Ω,r (nHz/R⊙)","titleFontSize":28,"labelPadding":18,"titlePadding":26}},
  "color":{"field":"s","type":"nominal","scale":{"domain":["o","y","gy","mg","c","b","g","r","k"],"range":["#ffa500","#ffff00","#808080","#ff00ff","#00ffff","#0000ff","#00dd00","#ff0000","#000000"]},"legend":null},
  "strokeDash":{"field":"d","type":"nominal","scale":{"domain":["m","u","l"],"range":[[1,0],[2.5,5],[2.5,5]]},"legend":null},
  "strokeWidth":{"condition":{"test":"datum.d==='m'","value":1.5},"value":2.2}
 }},
{"transform":[{"filter":"datum.s==='k' && datum.d==='m'"}],
 "mark":{"type":"point","opacity":0},
 "encoding":{
  "x":{"field":"r","type":"quantitative","scale":{"domain":[0.45,1.0],"nice":false,"zero":false},
   "axis":{"orient":"bottom","values":[0.46,0.48,0.5,0.52,0.54,0.56,0.58,0.6,0.62,0.64,0.66,0.68,0.7,0.72,0.74,0.76,0.78,0.8,0.82,0.84,0.86,0.88,0.9,0.92,0.94,0.96,0.98,1],"title":null,"labels":false,"domain":false,"tickSize":-10}},
  "y":{"field":"v","type":"quantitative","scale":{"domain":[-920,920],"nice":false,"zero":false},
   "axis":{"orient":"left","values":[-900,-800,-700,-600,-500,-400,-300,-200,-100,0,100,200,300,400,500,600,700,800,900],"title":null,"labels":false,"domain":false,"tickSize":-10}}
 }},
{"transform":[{"filter":"datum.s==='k' && datum.d==='m'"}],
 "mark":{"type":"point","opacity":0},
 "encoding":{
  "x":{"field":"r","type":"quantitative","scale":{"domain":[0.45,1.0],"nice":false,"zero":false},
   "axis":{"orient":"bottom","values":[0.5,0.6,0.7,0.8,0.9,1],"title":null,"labels":false,"domain":false,"tickSize":-21}},
  "y":{"field":"v","type":"quantitative","scale":{"domain":[-920,920],"nice":false,"zero":false},
   "axis":{"orient":"left","values":[-500,0,500],"title":null,"labels":false,"domain":false,"tickSize":-21}}
 }},
{"transform":[{"filter":"datum.s==='k' && datum.d==='m'"}],
 "mark":{"type":"point","opacity":0},
 "encoding":{
  "x":{"field":"r","type":"quantitative","scale":{"domain":[0.45,1.0],"nice":false,"zero":false},
   "axis":{"orient":"top","values":[0.46,0.48,0.5,0.52,0.54,0.56,0.58,0.6,0.62,0.64,0.66,0.68,0.7,0.72,0.74,0.76,0.78,0.8,0.82,0.84,0.86,0.88,0.9,0.92,0.94,0.96,0.98,1],"title":null,"labels":false,"tickSize":-10}},
  "y":{"field":"v","type":"quantitative","scale":{"domain":[-920,920],"nice":false,"zero":false},
   "axis":{"orient":"right","values":[-900,-800,-700,-600,-500,-400,-300,-200,-100,0,100,200,300,400,500,600,700,800,900],"title":null,"labels":false,"tickSize":-10}}
 }},
{"transform":[{"filter":"datum.s==='k' && datum.d==='m'"}],
 "mark":{"type":"point","opacity":0},
 "encoding":{
  "x":{"field":"r","type":"quantitative","scale":{"domain":[0.45,1.0],"nice":false,"zero":false},
   "axis":{"orient":"top","values":[0.5,0.6,0.7,0.8,0.9,1],"title":null,"labels":false,"domain":false,"tickSize":-21}},
  "y":{"field":"v","type":"quantitative","scale":{"domain":[-920,920],"nice":false,"zero":false},
   "axis":{"orient":"right","values":[-500,0,500],"title":null,"labels":false,"domain":false,"tickSize":-21}}
 }}
],
"resolve":{"axis":{"x":"independent","y":"independent"}}
}
